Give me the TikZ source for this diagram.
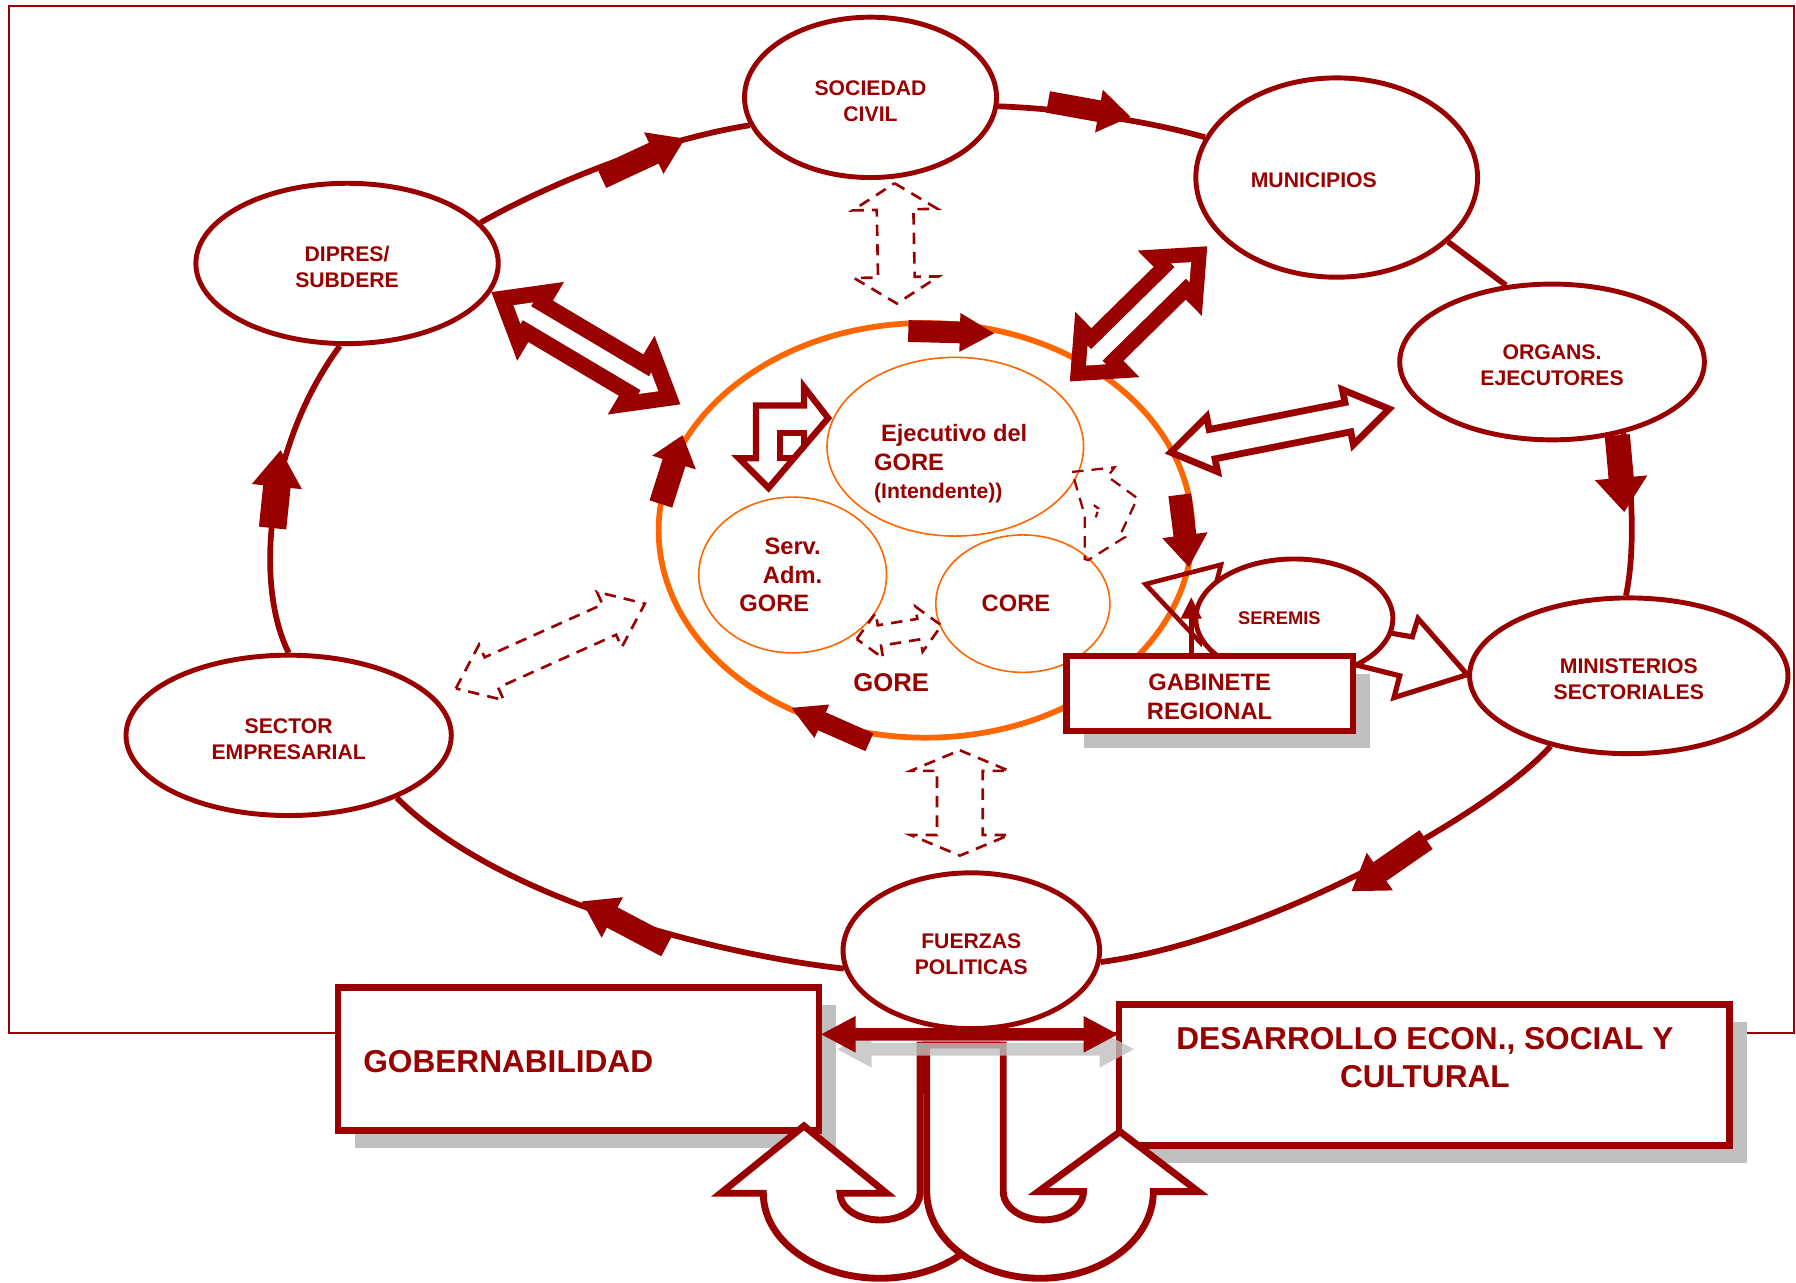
\documentclass[tikz,border=0pt]{standalone}
\usepackage{fontspec}
\setmainfont{Liberation Sans}
\usetikzlibrary{shapes.geometric,arrows.meta,calc,shadows}
\definecolor{dred}{RGB}{153,0,0}
\definecolor{gorange}{RGB}{255,102,0}
\definecolor{shgray}{RGB}{192,192,192}
\newcommand\fell{\bfseries\fontsize{18.5}{22.5}\selectfont}
\newcommand\fmid{\bfseries\fontsize{20.7}{25}\selectfont}
\newcommand\fsml{\bfseries\fontsize{18.5}{26}\selectfont}
\newcommand\fser{\bfseries\fontsize{16}{20}\selectfont}
\newcommand\fgore{\bfseries\fontsize{22.4}{26}\selectfont}
\newcommand\fbig{\bfseries\fontsize{27.6}{33}\selectfont}
% lowers a centred block of lines by 5pt without changing its box
\newcommand\dn[1]{\raisebox{-5pt}[\height][\depth]{\begin{tabular}{@{}c@{}}#1\end{tabular}}}
\newcommand\arrowframe[2]{%
  \pgfpointdiff{\pgfpointanchor{#1}{center}}{\pgfpointanchor{#2}{center}}%
  \pgfgetlastxy{\adx}{\ady}%
  \pgfmathsetmacro\alen{veclen(\adx,\ady)}%
  \pgfmathsetmacro\aang{atan2(\ady,\adx)}}
% double headed block arrow polygon: from, to, inset, half shaft, half head, head length, style
\newcommand\dblshape[7]{%
  \arrowframe{#1}{#2}%
  \pgfmathsetmacro\aA{#3}%
  \pgfmathsetmacro\aB{\alen-#3}%
  \pgfmathsetmacro\aC{#3+#6}%
  \pgfmathsetmacro\aD{\alen-#3-#6}%
  \begin{scope}[shift={(#1)},rotate=\aang,x=1pt,y=1pt]
    \path[#7] (\aA,0) -- (\aC,#5) -- (\aC,#4) -- (\aD,#4) -- (\aD,#5) -- (\aB,0)
      -- (\aD,-#5) -- (\aD,-#4) -- (\aC,-#4) -- (\aC,-#5) -- cycle;
  \end{scope}}
% hollow double arrow: from, to, half shaft, half head, head length, stroke
\newcommand\hollowdbl[6]{%
  \pgfmathsetmacro\ains{#6*veclen(#5,#4)/#4}%
  \pgfmathsetmacro\ahlin{#5-#6-\ains}%
  \pgfmathsetmacro\ahhin{\ahlin*#4/#5}%
  \pgfmathsetmacro\ahsin{#3-#6}%
  \dblshape{#1}{#2}{0}{#3}{#4}{#5}{fill=dred}%
  \dblshape{#1}{#2}{\ains}{\ahsin}{\ahhin}{\ahlin}{fill=white}}
\newcommand\dashdbl[5]{\dblshape{#1}{#2}{0}{#3}{#4}{#5}{dashbox}}
% single block arrow: tail, tip, half shaft, half head, head length
\newcommand\blockarr[5]{%
  \arrowframe{#1}{#2}%
  \pgfmathsetmacro\aD{\alen-#5}%
  \begin{scope}[shift={(#1)},rotate=\aang,x=1pt,y=1pt]
    \fill[dred] (0,#3) -- (\aD,#3) -- (\aD,#4) -- (\alen,0) -- (\aD,-#4) -- (\aD,-#3) -- (0,-#3) -- cycle;
  \end{scope}}
\tikzset{
  ell/.style={ellipse, draw=dred, line width=4.3pt, fill=white, inner sep=0pt, text=dred, font=\fell, align=center},
  iell/.style={ellipse, draw=gorange, line width=1.4pt, inner sep=0pt, text=dred, align=center},
  txt/.style={text=dred, inner sep=0pt},
  loopline/.style={draw=dred, line width=5pt},
  dashbox/.style={draw=dred, line width=2.3pt, dash pattern=on 10pt off 7pt},
  boxnode/.style={rectangle, draw=dred, line width=5.5pt, fill=white, inner sep=0pt, text=dred, align=center,
     drop shadow={shadow xshift=15pt, shadow yshift=-15pt, fill=shgray, opacity=1}},
  uarrow/.style={draw=dred, line width=6pt, fill=white, line join=miter},
}
\begin{document}
\begin{tikzpicture}[x=1pt,y=-1pt,line join=miter]
\useasboundingbox (0,0) rectangle (1568,1120);
\fill[white] (0,0) rectangle (1568,1120);
% frame
\draw[dred, line width=1.5pt] (8,5) rectangle (1566,902);

% GORE
\node[ellipse, draw=gorange, line width=5pt, minimum width=466pt, minimum height=362pt, inner sep=0pt] (gore) at (808,463) {};
\node[iell, minimum width=224pt, minimum height=156pt] (eje) at (834,390) {};
\node[txt, font=\fmid, anchor=west, align=left] (ejetxt) at (763,405) {\hspace*{6pt}Ejecutivo del\\GORE\\{\fsml (Intendente))}};
\node[iell, minimum width=164pt, minimum height=136pt, font=\fmid] (serv) at (692,502) {Serv.\\Adm.\\GORE\hspace*{32pt}};
\node[iell, minimum width=152pt, minimum height=120pt, font=\fmid] (core) at (893,527) {CORE\hspace*{12pt}};
\node[txt, font=\fgore] (goretxt) at (778,596) {GORE};

% loop ellipses
\node[ell, minimum width=220pt, minimum height=140pt] (soc) at (760,85) {\dn{SOCIEDAD\\CIVIL}};
\node[ell, minimum width=246pt, minimum height=174pt] (mun) at (1167,155) {};
\node[txt, font=\fell] (muntxt) at (1147,157) {MUNICIPIOS};
\node[ell, minimum width=264pt, minimum height=140pt] (dip) at (303,230) {\dn{DIPRES/\\SUBDERE}};
\node[ell, minimum width=266pt, minimum height=136pt] (org) at (1355,316) {\dn{ORGANS.\\EJECUTORES}};
\node[ell, minimum width=284pt, minimum height=140pt] (sec) at (252,642) {\dn{SECTOR\\EMPRESARIAL}};
\node[ell, minimum width=278pt, minimum height=136pt] (min) at (1422,590) {\dn{MINISTERIOS\\SECTORIALES}};
\node[ell, minimum width=224pt, minimum height=136pt] (fue) at (848,830) {\dn{FUERZAS\\POLITICAS}};

% loop lines
\draw[loopline] (dip.17) .. controls (480,160) and (575,122) .. (soc.193);
\draw[loopline] (soc.-4) .. controls (930,95) and (1000,105) .. (mun.163);
\draw[loopline] (mun.-30) -- (org.121);
\draw[loopline] (org.-45) .. controls (1425,420) and (1428,480) .. (min.92);
\draw[loopline] (min.222) .. controls (1300,712) and (1100,822) .. (fue.-5);
\draw[loopline] (fue.188) .. controls (640,835) and (440,790) .. (sec.-30);
\draw[loopline] (sec.90) .. controls (222,510) and (232,390) .. (dip.265);

% hollow double arrows
\coordinate (dg1) at (429,255); \coordinate (dg2) at (594,353);
\hollowdbl{dg1}{dg2}{21}{40}{50}{14}
\coordinate (gm1) at (934,333); \coordinate (gm2) at (1054,215);
\hollowdbl{gm1}{gm2}{20}{40}{46}{13}
\coordinate (go1) at (1017,396); \coordinate (go2) at (1218,356);
\hollowdbl{go1}{go2}{16}{30}{45}{6}

% dashed double arrows
\coordinate (sg1) at (781,160); \coordinate (sg2) at (783,265);
\dashdbl{sg1}{sg2}{16}{37}{23}
\coordinate (gf1) at (838,655); \coordinate (gf2) at (838,747);
\dashdbl{gf1}{gf2}{20}{43}{18}
\coordinate (eg1) at (398,601); \coordinate (eg2) at (563,527);
\dashdbl{eg1}{eg2}{14.5}{26.5}{34}
\coordinate (sc1) at (748,558); \coordinate (sc2) at (822,546);
\dashdbl{sc1}{sc2}{9}{20}{20}
\draw[dashbox, line width=2pt] (936,412) -- (973,408) -- (967,416) -- (993,435) -- (978,467) -- (982,469)
  -- (950,489) -- (947,488) -- (947,450) -- cycle;
\draw[dashbox, line width=2pt, dash pattern=on 5pt off 3pt] (955,441) -- (959,444) -- (956,454);

% bent arrow (Serv <-> Ejecutivo)
\draw[dred, line width=5.5pt, fill=white] (645,400) -- (660,400) -- (660,354) -- (702,354) -- (702,338)
  -- (723,365) -- (671,426) -- cycle;
\draw[dred, line width=5.5pt] (693,400) -- (681,400) -- (681,378) -- (702,378) -- (702,390);

% SEREMIS group
\draw[dred, line width=4pt] (1000,510) -- (1066,493) -- (1048,561) -- cycle;
\draw[dred, line width=4.5pt, fill=white] (1210,552) -- (1233,556) -- (1238,540) -- (1281,589)
  -- (1217,609) -- (1222,590) -- (1170,577) -- cycle;
\node[ell, minimum width=172pt, minimum height=104pt] (ser) at (1130,540) {};
\node[txt, font=\fser] (sertxt) at (1117,540) {SEREMIS};
\node[boxnode, minimum width=250pt, minimum height=65pt, font=\fmid] (gab) at (1056,605.5) {\dn{GABINETE\\REGIONAL}};
\coordinate (serin) at (1040,521);
\draw[dred, line width=4.5pt, -{Triangle[length=19pt,width=17pt]}] (gab.north -| serin) -- (serin);

% block arrows on the loop
\coordinate (a1t) at (915,89);   \coordinate (a1h) at (987,102);  \blockarr{a1t}{a1h}{9.5}{19}{28}
\coordinate (a2t) at (1412,380); \coordinate (a2h) at (1418,447); \blockarr{a2t}{a2h}{11}{23}{30}
\coordinate (a3t) at (1245,733); \coordinate (a3h) at (1180,778); \blockarr{a3t}{a3h}{10}{20}{30}
\coordinate (a4t) at (582,826);  \coordinate (a4h) at (508,787);  \blockarr{a4t}{a4h}{10}{20}{30}
\coordinate (a5t) at (238,461);  \coordinate (a5h) at (245,393);  \blockarr{a5t}{a5h}{12}{22}{32}
\coordinate (a6t) at (525,155);  \coordinate (a6h) at (598,121);  \blockarr{a6t}{a6h}{10}{20}{30}
% block arrows on GORE
\coordinate (a7t) at (793,289);  \coordinate (a7h) at (868,291);  \blockarr{a7t}{a7h}{9.5}{17}{30}
\coordinate (a8t) at (577,440);  \coordinate (a8h) at (596,380);  \blockarr{a8t}{a8h}{10.4}{20}{25}
\coordinate (a9t) at (759,648);  \coordinate (a9h) at (691,618);  \blockarr{a9t}{a9h}{8.5}{16}{29}
\coordinate (a10t) at (1030,432); \coordinate (a10h) at (1038,495); \blockarr{a10t}{a10h}{10}{20}{28}

% bottom boxes
\node[boxnode, minimum width=420pt, minimum height=125pt] (gob) at (505,924.5) {};
\node[txt, font=\fbig, anchor=west] (gobtxt) at (317,927) {GOBERNABILIDAD};
\node[boxnode, minimum width=533pt, minimum height=123pt] (des) at (1243.5,938.5) {};
\node[txt, font=\fbig, align=center] (destxt) at (1244,923) {DESARROLLO ECON., SOCIAL Y\\CULTURAL};

% U-turn arrows
\draw[uarrow] (803.2,912.3) -- (803.2,1041.8) arc[start angle=0,end angle=-180,x radius=34.9pt,y radius=23.3pt]
  -- (774.1,1041.8) -- (701.9,983) -- (629.1,1041.8) -- (666.4,1041.8)
  arc[start angle=180,end angle=360,x radius=101.9pt,y radius=74.2pt] -- (870.1,912.3) -- cycle;
\draw[uarrow] (809,912.3) -- (875.9,912.3) -- (875.9,1040.3) arc[start angle=180,end angle=360,x radius=35pt,y radius=24.7pt]
  -- (906.5,1040.3) -- (977.8,988) -- (1046.2,1040.3) -- (1006.9,1040.3)
  arc[start angle=0,end angle=-180,x radius=98.9pt,y radius=75.7pt] -- cycle;

% double arrow between boxes
\coordinate (ds1) at (731,916); \coordinate (ds2) at (990,916);
\dblshape{ds1}{ds2}{0}{5.5}{16}{30}{fill=shgray, opacity=0.8}
\coordinate (da1) at (717,903); \coordinate (da2) at (976,903);
\dblshape{da1}{da2}{0}{5.5}{16}{30}{fill=dred}
\end{tikzpicture}
\end{document}
